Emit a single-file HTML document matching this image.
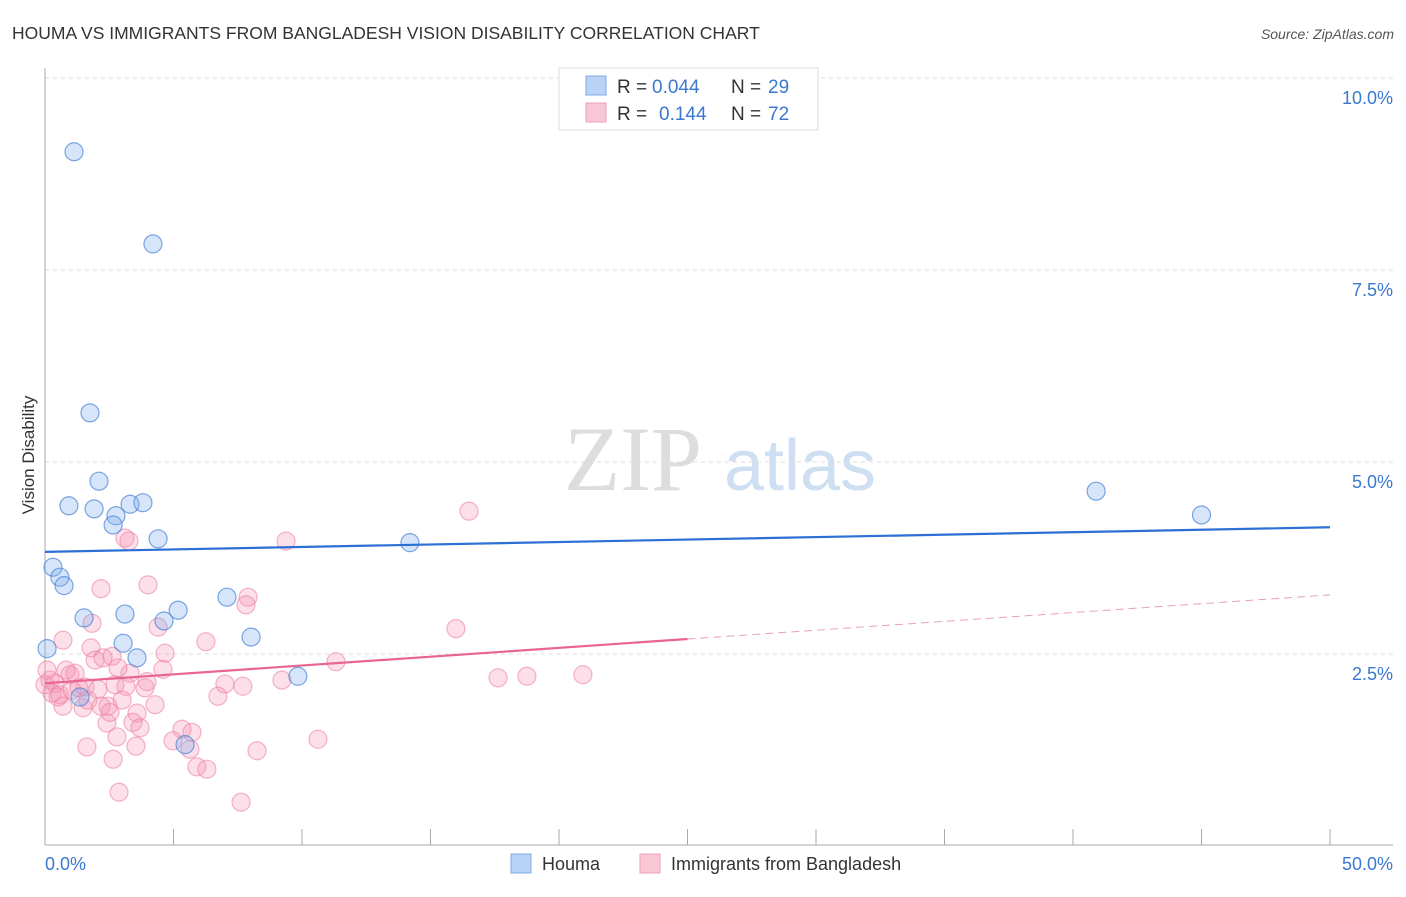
<!DOCTYPE html>
<html><head><meta charset="utf-8"><style>
body{margin:0;background:#fff;font-family:"Liberation Sans",sans-serif}
</style></head><body>
<svg width="1406" height="892" xmlns="http://www.w3.org/2000/svg" id="chart" style="font-family:'Liberation Sans',sans-serif">
<text x="12" y="39" font-size="17.5" fill="#333">HOUMA VS IMMIGRANTS FROM BANGLADESH VISION DISABILITY CORRELATION CHART</text>
<text x="1394" y="39" font-size="14" font-style="italic" fill="#555" text-anchor="end">Source: ZipAtlas.com</text>
<g>
<text x="633" y="490" font-size="92" font-family="Liberation Serif" fill="#ddd" text-anchor="middle">ZIP</text>
<text x="800" y="490" font-size="72" fill="#cfdff2" text-anchor="middle">atlas</text>
</g>
<g id="grid"></g>
<g id="axes"></g>
<g id="marks"></g>
<text x="34" y="455" font-size="17" fill="#333" text-anchor="middle" transform="rotate(-90 34 455)">Vision Disability</text>
<g>
<rect x="559" y="68" width="259" height="62" fill="#fff" stroke="#ddd"/>
<rect x="586" y="76" width="20" height="19" fill="#b8d3f5" stroke="#7ea8e0"/>
<rect x="586" y="103" width="20" height="19" fill="#f9c7d5" stroke="#eea2b9"/>
<text x="617" y="93" font-size="19" fill="#333">R =</text>
<text x="652" y="93" font-size="19" fill="#3b78d0">0.044</text>
<text x="731" y="93" font-size="19" fill="#333">N =</text>
<text x="768" y="93" font-size="19" fill="#3b78d0">29</text>
<text x="617" y="120" font-size="19" fill="#333">R =</text>
<text x="659" y="120" font-size="19" fill="#3b78d0">0.144</text>
<text x="731" y="120" font-size="19" fill="#333">N =</text>
<text x="768" y="120" font-size="19" fill="#3b78d0">72</text>
</g>
<g>
<rect x="511" y="854" width="20" height="19" fill="#b8d3f5" stroke="#7ea8e0"/>
<text x="542" y="870" font-size="18" fill="#333">Houma</text>
<rect x="640" y="854" width="20" height="19" fill="#f9c7d5" stroke="#eea2b9"/>
<text x="671" y="870" font-size="18" fill="#333">Immigrants from Bangladesh</text>
</g>
</svg>
<script>
const yTicks=[2.5,5,7.5,10];
const yTickLabels=["2.5%","5.0%","7.5%","10.0%"];
const xTickVals=[0,5,10,15,20,25,30,35,40,45,50];
const houmaX=[1.13,4.20,1.75,2.10,0.93,1.91,3.31,3.81,2.76,2.65,4.40,14.2,0.31,0.58,0.74,1.52,3.11,5.18,4.63,7.08,8.02,3.04,0.08,3.58,1.36,9.84,5.45,40.9,45.0];
const houmaY=[9.04,7.84,5.64,4.75,4.43,4.39,4.45,4.47,4.30,4.18,4.00,3.95,3.63,3.50,3.39,2.97,3.02,3.07,2.93,3.24,2.72,2.64,2.57,2.45,1.94,2.21,1.32,4.62,4.31];
const bangX=[3.11,3.27,9.38,2.18,4.01,7.90,7.82,1.83,4.40,0.70,6.26,1.79,4.67,1.95,2.26,2.61,4.59,11.32,3.31,0.97,1.17,3.97,2.72,7.00,7.70,9.22,3.89,1.56,2.06,0.19,0.39,0.27,0.58,0.70,1.48,6.73,3.00,2.45,4.28,3.58,2.41,3.42,3.70,5.33,5.72,2.80,3.54,4.98,5.64,1.63,2.65,8.25,10.62,5.91,6.30,2.88,7.63,16.50,15.99,17.63,18.75,20.93,0.08,0.82,0.00,0.51,1.05,1.32,1.67,2.84,3.15,2.18,2.53];
const bangY=[4.01,3.97,3.97,3.35,3.40,3.24,3.14,2.90,2.85,2.68,2.66,2.58,2.51,2.42,2.45,2.47,2.30,2.40,2.25,2.23,2.25,2.14,2.10,2.11,2.08,2.16,2.06,2.07,2.04,2.16,2.12,1.99,1.97,1.82,1.80,1.95,1.90,1.82,1.84,1.73,1.60,1.61,1.54,1.52,1.48,1.42,1.30,1.37,1.26,1.29,1.13,1.24,1.39,1.03,1.00,0.70,0.57,4.36,2.83,2.19,2.21,2.23,2.29,2.29,2.10,1.94,2.03,2.06,1.90,2.32,2.08,1.82,1.74];
const houmaTrend=[3.83,4.15];
const bangTrend=[2.12,3.27];
const ns="http://www.w3.org/2000/svg";
const X=v=>45+v*25.7, Y=v=>846-v*76.8;
function mk(tag,attrs,parent){const e=document.createElementNS(ns,tag);for(const k in attrs)e.setAttribute(k,attrs[k]);document.getElementById(parent).appendChild(e);return e;}
yTicks.forEach((t,i)=>{
 const g=mk('line',{x1:45,x2:1393,y1:Y(t),y2:Y(t),stroke:'#ddd','stroke-dasharray':'4,4'},'grid');
 
 
 const l=mk('text',{x:1393,y:Y(t)+26,'font-size':18,fill:'#3b78d0','text-anchor':'end'},'grid');
 l.textContent=yTickLabels[i];
 
 
});
let a=mk('line',{x1:45,x2:45,y1:68,y2:845,stroke:'#aaa'},'axes');


a=mk('line',{x1:45,x2:1393,y1:845,y2:845,stroke:'#aaa'},'axes');


xTickVals.forEach(t=>{const e=mk('line',{x1:X(t),x2:X(t),y1:829,y2:845,stroke:'#aaa'},'axes');
 
 });
let xl=mk('text',{x:45,y:870,'font-size':18,fill:'#3b78d0'},'axes');xl.textContent=xTickVals[0].toFixed(1)+"%";


xl=mk('text',{x:1393,y:870,'font-size':18,fill:'#3b78d0','text-anchor':'end'},'axes');xl.textContent=xTickVals[xTickVals.length-1].toFixed(1)+"%";


bangX.forEach((x,i)=>{const c=mk('circle',{cx:X(x),cy:Y(bangY[i]),r:9,fill:'rgba(244,150,178,0.3)',stroke:'rgba(236,130,165,0.6)','stroke-width':1.2},'marks');
 
 });
houmaX.forEach((x,i)=>{const c=mk('circle',{cx:X(x),cy:Y(houmaY[i]),r:9,fill:'rgba(120,170,235,0.3)',stroke:'rgba(70,130,215,0.7)','stroke-width':1.2},'marks');
 
 });
let t=mk('line',{x1:X(0),y1:Y(houmaTrend[0]),x2:X(50),y2:Y(houmaTrend[1]),stroke:'#2d6fd6','stroke-width':2.2},'marks');


const bm=(bangTrend[1]-bangTrend[0])/50;
t=mk('line',{x1:X(0),y1:Y(bangTrend[0]),x2:X(25),y2:Y(bangTrend[0]+bm*25),stroke:'#e9658f','stroke-width':2.2},'marks');


t=mk('line',{x1:X(25),y1:Y(bangTrend[0]+bm*25),x2:X(50),y2:Y(bangTrend[1]),stroke:'#e9a0b8','stroke-width':1,'stroke-dasharray':'8,5'},'marks');


</script>
</body></html>
